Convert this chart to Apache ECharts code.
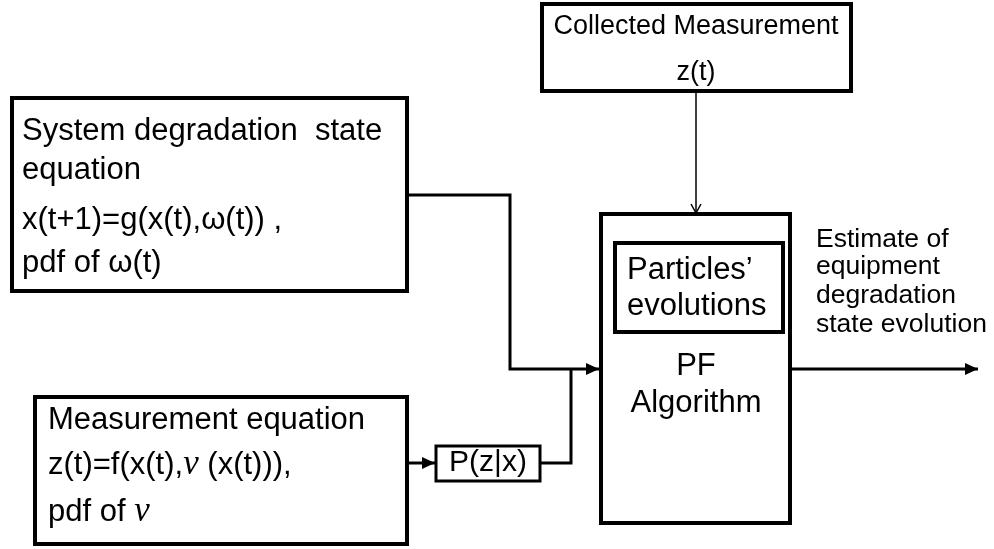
<!DOCTYPE html>
<html>
<head>
<meta charset="utf-8">
<script src="https://cdn.jsdelivr.net/npm/echarts@6/dist/echarts.min.js"></script>
<style>
  html, body { margin: 0; padding: 0; background: #fff; }
  #chart { width: 994px; height: 549px; }
</style>
</head>
<body>
<div id="chart"></div>
<script>
(() => {
    const W = 994, H = 549;
    const FONT = "'Liberation Sans', Arial, sans-serif";

    // boxes: [x0, y0, x1, y1] in diagram units
    const boxes = [
        [542, 4, 851, 91],      // Collected Measurement
        [12, 98, 407, 291],     // System degradation state equation
        [35, 397, 407, 544],    // Measurement equation
        [436, 446, 540, 481],   // P(z|x)
        [601, 214, 790, 523],   // PF Algorithm
        [615, 243, 783, 332]    // Particles' evolutions
    ];

    // connectors: list of points, last point gets the head
    const links = [
        [[696, 91], [696, 213]],
        [[407, 195], [510, 195], [510, 369], [599, 369]],
        [[407, 463], [435, 463]],
        [[540, 463], [571, 463], [571, 369]],
        [[790, 369], [978, 369]]
    ];
    const linkHeads = ['open', 'fill', 'fill', 'none', 'fill'];

    // texts: [x, y, text, size, align]
    const labels = [
        [696, 27, 'Collected Measurement', 27, 'center'],
        [696, 73, 'z(t)', 27, 'center'],
        [22, 131, 'System degradation  state', 31, 'left'],
        [22, 170, 'equation', 31, 'left'],
        [22, 220, 'x(t+1)=g(x(t),ω(t)) ,', 31, 'left'],
        [22, 263, 'pdf of ω(t)', 31, 'left'],
        [627, 270, 'Particles’', 31, 'left'],
        [627, 306, 'evolutions', 31, 'left'],
        [696, 366, 'PF', 31, 'center'],
        [696, 403, 'Algorithm', 31, 'center'],
        [816, 240, 'Estimate of', 26.5, 'left'],
        [816, 267, 'equipment', 26.5, 'left'],
        [816, 296, 'degradation', 26.5, 'left'],
        [816, 325, 'state evolution', 26.5, 'left'],
        [48, 420, 'Measurement equation', 31, 'left'],
        [48, 465, 'z(t)=f(x(t),{nu|ν} (x(t))),', 31, 'left'],
        [48, 512, 'pdf of {nu|ν}', 31, 'left'],
        [488, 463, 'P(z|x)', 30, 'center']
    ];

    const chart = echarts.init(document.getElementById('chart'));

    function boxItem(params, api) {
        const p0 = api.coord([api.value(0), api.value(1)]);
        const p1 = api.coord([api.value(2), api.value(3)]);
        return {
            type: 'rect',
            shape: { x: p0[0], y: p0[1], width: p1[0] - p0[0], height: p1[1] - p0[1] },
            style: { fill: '#fff', stroke: '#000', lineWidth: params.dataIndex === 3 ? 3 : 4 }
        };
    }

    function linkItem(params, api) {
        const pts = links[params.dataIndex].map(p => api.coord(p));
        const head = linkHeads[params.dataIndex];
        const thin = head === 'open';
        const children = [{
            type: 'polyline',
            shape: { points: pts },
            style: { stroke: '#000', lineWidth: thin ? 1.5 : 3, fill: null }
        }];
        if (head !== 'none') {
            const a = pts[pts.length - 2], b = pts[pts.length - 1];
            const len = Math.hypot(b[0] - a[0], b[1] - a[1]);
            const ux = (b[0] - a[0]) / len, uy = (b[1] - a[1]) / len;
            const L = thin ? 9 : 13, hw = thin ? 5 : 6;
            const base = [b[0] - ux * L, b[1] - uy * L];
            const left = [base[0] - uy * hw, base[1] + ux * hw];
            const right = [base[0] + uy * hw, base[1] - ux * hw];
            if (thin) {
                children.push({
                    type: 'polyline',
                    shape: { points: [left, b, right] },
                    style: { stroke: '#000', lineWidth: 1.5, fill: null }
                });
            } else {
                children.push({
                    type: 'polygon',
                    shape: { points: [left, b, right] },
                    style: { fill: '#000', stroke: null }
                });
            }
        }
        return { type: 'group', children: children };
    }

    function labelItem(params, api) {
        const l = labels[params.dataIndex];
        const p = api.coord([l[0], l[1]]);
        return {
            type: 'text',
            x: p[0],
            y: p[1],
            style: {
                text: l[2],
                fill: '#000',
                fontSize: l[3],
                fontFamily: FONT,
                align: l[4],
                verticalAlign: 'middle',
                rich: {
                    nu: {
                        fontFamily: "'Liberation Serif', 'Times New Roman', serif",
                        fontStyle: 'italic',
                        fontSize: l[3] + 4,
                        fill: '#000'
                    }
                }
            }
        };
    }

    chart.setOption({
        backgroundColor: '#fff',
        animation: false,
        grid: { left: 0, right: 0, top: 0, bottom: 0 },
        xAxis: { type: 'value', min: 0, max: W, show: false },
        yAxis: { type: 'value', min: 0, max: H, inverse: true, show: false },
        series: [
            {
                type: 'custom',
                coordinateSystem: 'cartesian2d',
                renderItem: linkItem,
                data: links.map(l => [l[0][0], l[0][1]]),
                silent: true,
                z: 1
            },
            {
                type: 'custom',
                coordinateSystem: 'cartesian2d',
                renderItem: boxItem,
                data: boxes,
                silent: true,
                z: 2
            },
            {
                type: 'custom',
                coordinateSystem: 'cartesian2d',
                renderItem: labelItem,
                data: labels.map(l => [l[0], l[1]]),
                silent: true,
                z: 3
            }
        ]
    });
})();
</script>
</body>
</html>
